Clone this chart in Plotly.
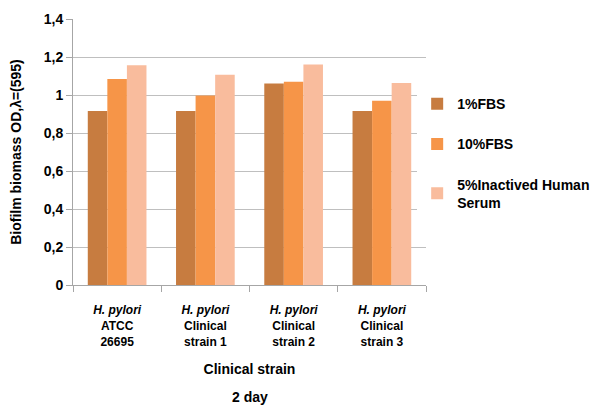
import plotly.graph_objects as go

categories = ["ATCC 26695", "Clinical strain 1", "Clinical strain 2", "Clinical strain 3"]
tick_labels = [
    "<i>H. pylori</i><br>ATCC<br>26695",
    "<i>H. pylori</i><br>Clinical<br>strain 1",
    "<i>H. pylori</i><br>Clinical<br>strain 2",
    "<i>H. pylori</i><br>Clinical<br>strain 3",
]
fbs1 = [0.916, 0.916, 1.061, 0.916]
fbs10 = [1.084, 0.998, 1.070, 0.970]
serum5 = [1.156, 1.107, 1.161, 1.063]
series_names = ["1%FBS", "10%FBS", "5%Inactived Human<br>Serum"]
colors = ["#C77C40", "#F69548", "#F9BC9D"]
y_tickvals = [0, 0.2, 0.4, 0.6, 0.8, 1.0, 1.2, 1.4]
y_ticktext = ["0", "0,2", "0,4", "0,6", "0,8", "1", "1,2", "1,4"]

FONT = "Liberation Sans, Arial, sans-serif"

fig = go.Figure()
for i, (name, vals, c) in enumerate(zip(series_names, [fbs1, fbs10, serum5], colors)):
    fig.add_trace(go.Bar(x=categories, y=vals, name=name, marker_color=c,
                         marker_line_width=0, legendgroup=str(i)))

fig.update_layout(
    width=603, height=397,
    margin=dict(l=65, r=185, t=11, b=120, autoexpand=False),
    plot_bgcolor="white", paper_bgcolor="white",
    barmode="group", bargap=0.335, bargroupgap=0,
    font=dict(family=FONT, color="black"),
    legend=dict(x=0.975, y=0.74, xanchor="left", yanchor="top",
                font=dict(size=14, family=FONT, color="black", weight="bold"),
                tracegroupgap=19, itemwidth=30),
    xaxis=dict(
        automargin=False,
        tickmode="array", tickvals=categories, ticktext=tick_labels,
        tickson="boundaries", ticks="outside", ticklen=6, tickcolor="#A6A6A6",
        showline=True, linecolor="#A6A6A6", linewidth=1,
        ticklabelstandoff=14,
        tickfont=dict(size=12, family=FONT, color="black", weight="bold"),
        title=dict(text="Clinical strain", font=dict(size=14, family=FONT, color="black", weight="bold"), standoff=16),
    ),
    yaxis=dict(
        automargin=False,
        range=[0, 1.4], tickmode="array", tickvals=y_tickvals, ticktext=y_ticktext,
        ticks="outside", ticklen=6, tickcolor="#A6A6A6",
        showline=True, linecolor="#A6A6A6", linewidth=1,
        showgrid=True, gridcolor="#BFBFBF", gridwidth=1, zeroline=False,
        tickfont=dict(size=14, family=FONT, color="black", weight="bold"),
        title=dict(text="Biofilm biomass OD,λ=(595)", font=dict(size=14, family=FONT, color="black", weight="bold"), standoff=19),
    ),
    annotations=[dict(text="2 day", xref="paper", yref="paper", x=0.5, y=-0.42,
                      xanchor="center", yanchor="middle", showarrow=False,
                      font=dict(size=14, family=FONT, color="black", weight="bold"))],
)

fig.write_html("out.html")
